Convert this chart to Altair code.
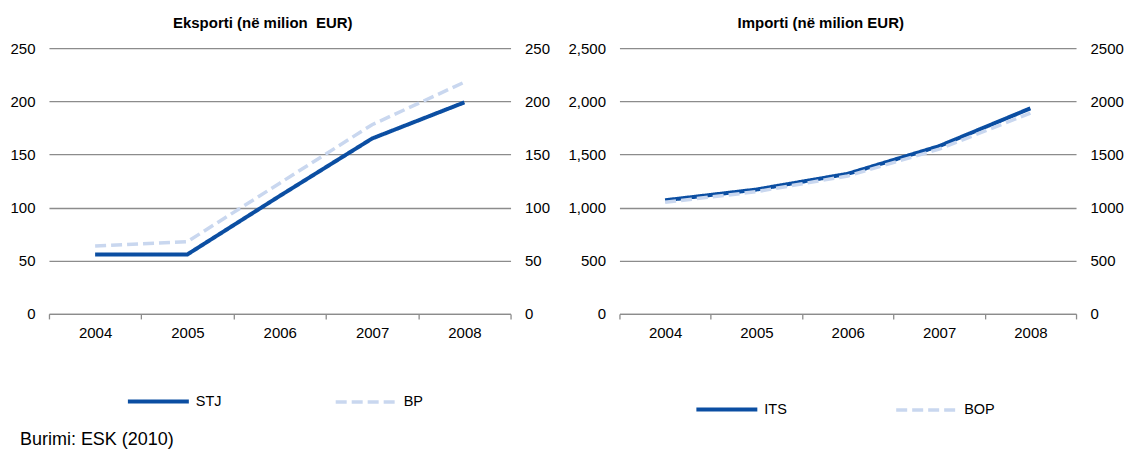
import altair as alt
import pandas as pd

# ---- data ----
years = ["2004", "2005", "2006", "2007", "2008"]
stj = [56, 56, 111, 165, 199]
bp = [64, 68, 123, 178, 218]
its = [1069, 1170, 1318, 1578, 1934]
bop = [1050, 1150, 1298, 1550, 1890]
exp_ticks = [0, 50, 100, 150, 200, 250]
imp_ticks = [0, 500, 1000, 1500, 2000, 2500]
exp_names = ["STJ", "BP"]
imp_names = ["ITS", "BOP"]
exp_title = "Eksporti (në milion\u00a0 EUR)"
imp_title = "Importi (në milion EUR)"
source_text = "Burimi: ESK (2010)"

DARK = "#0b4ea2"
LIGHT = "#c9d7ef"
GRID = "#8c8c8c"
FONT = "Liberation Sans"


def panel(names, vals_a, vals_b, ticks, left_fmt, right_fmt, title, dx,
          width, lx, ly, colpad, left_ext, right_ext):
    rows = []
    for name, vals in zip(names, [vals_a, vals_b]):
        for yr, v in zip(years, vals):
            rows.append({"year": yr, "value": v, "series": name})
    df = pd.DataFrame(rows)
    xenc = alt.X(
        "year:O",
        scale=alt.Scale(paddingInner=0, paddingOuter=0),
        axis=alt.Axis(title=None, labelAngle=0, tickBand="extent", ticks=True,
                      tickSize=5, tickColor=GRID, tickWidth=1.3, domain=True,
                      domainColor=GRID, domainWidth=1.3, grid=False,
                      labelPadding=7, labelFontSize=15, labelFont=FONT,
                      labelColor="#000"),
    )
    yscale = alt.Scale(domain=[ticks[0], ticks[-1]], nice=False)
    leg = alt.Legend(orient="none", legendX=lx, legendY=ly, direction="horizontal",
                     columns=2, columnPadding=colpad, symbolType="stroke",
                     symbolSize=3721, symbolStrokeWidth=4, labelFontSize=14.5,
                     labelFont=FONT, labelColor="#000", labelOffset=5, title=None,
                     padding=0)
    lines = alt.Chart(df).mark_line(strokeCap="butt").encode(
        x=xenc,
        y=alt.Y("value:Q", scale=yscale,
                axis=alt.Axis(title=None, values=ticks, format=left_fmt, grid=True,
                              gridColor=GRID, gridWidth=1.3, domain=False, ticks=False,
                              labelPadding=14, labelFontSize=15, labelFont=FONT,
                              labelColor="#000", minExtent=left_ext,
                              maxExtent=left_ext)),
        color=alt.Color("series:N", scale=alt.Scale(domain=names, range=[DARK, LIGHT]),
                        legend=leg),
        strokeDash=alt.StrokeDash("series:N",
                                  scale=alt.Scale(domain=names, range=[[1, 0], [11, 5]]),
                                  legend=leg),
        strokeWidth=alt.StrokeWidth("series:N",
                                    scale=alt.Scale(domain=names, range=[4, 3.5]),
                                    legend=None),
    )
    right_axis = alt.Chart(df).mark_point(opacity=0).encode(
        x=xenc,
        y=alt.Y("value:Q", scale=yscale,
                axis=alt.Axis(title=None, orient="right", values=ticks, format=right_fmt,
                              grid=False, domain=False, ticks=False, labelPadding=14,
                              labelFontSize=15, labelFont=FONT, labelColor="#000",
                              minExtent=right_ext, maxExtent=right_ext)),
    )
    return alt.layer(lines, right_axis).resolve_axis(y="independent").properties(
        width=width, height=266,
        title=alt.TitleParams(title, fontSize=15, fontWeight="bold", font=FONT,
                              color="#000", anchor="middle", dx=dx, offset=10),
    )


left = panel(exp_names, stj, bp, exp_ticks, ".0f", ".0f", exp_title, -17,
             462, 77, 321, 107, 41, 45)
right = panel(imp_names, its, bop, imp_ticks, ",.0f", ".0f", imp_title, -27,
              457, 75, 329, 102, 56, 45)

chart = alt.hconcat(left, right, spacing=8).resolve_scale(
    color="independent", strokeDash="independent", strokeWidth="independent",
    x="independent", y="independent",
).properties(
    padding={"left": 0, "top": 8, "right": 0, "bottom": 0},
    title=alt.TitleParams(source_text, orient="bottom", anchor="start", fontSize=18,
                          fontWeight="normal", font=FONT, color="#000", dx=12,
                          offset=13),
).configure_view(stroke=None)

chart.save("out.html", embed_options={"renderer": "svg", "actions": False})
